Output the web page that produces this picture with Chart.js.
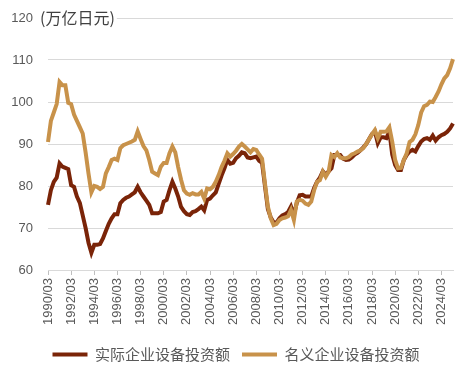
<!DOCTYPE html>
<html>
<head>
<meta charset="utf-8">
<script src="https://cdn.jsdelivr.net/npm/chart.js@4.4.1/dist/chart.umd.min.js"></script>
<style>
  html, body { margin: 0; padding: 0; background: #fff; }
  #wrap { width: 472px; height: 377px; }
</style>
</head>
<body>
<div id="wrap"><canvas id="capexChart" width="472" height="377"></canvas></div>
<script>
// quarterly series, 1990/03 .. 2025/03 (万亿日元)
const startYear = 1990;
const quarterMonths = ['03', '06', '09', '12'];

const realCapex = [
  75.5, 79, 81, 82, 85.4, 84.6, 84.3, 84, 80.2, 79.8,
  77.5, 76, 73, 70, 66.5, 64.1, 66, 66, 66.2, 67.5,
  69.3, 71, 72.3, 73.3, 73.3, 75.9, 76.7, 77.2, 77.5, 78,
  78.5, 79.8, 78.5, 77.5, 76.5, 75.5, 73.5, 73.5, 73.5, 73.8,
  76.3, 76.7, 79, 81, 79.4, 77.5, 75, 74, 73.3, 73.1,
  73.8, 74, 74.5, 75.1, 74.2, 76.7, 77, 77.8, 78.5, 80.5,
  82.5, 84.2, 86.2, 85.3, 85.5, 86.6, 87.2, 88, 87.8, 86.8,
  86.6, 86.8, 87, 86, 85.5, 80, 74.5, 72.5, 71.3, 71.3,
  72.3, 73, 73.3, 73.8, 75.1, 73.1, 76, 77.8, 77.9, 77.5,
  77.5, 77.5, 79.5, 81, 82, 83.5, 82.6, 83.5, 84.2, 87.4,
  87.4, 87.4, 86.5, 86.2, 86.3, 86.8, 87.5, 87.9, 88.5, 89.2,
  90, 91.2, 92.4, 93, 90.2, 91.6, 91.6, 91.4, 93, 87.5,
  85, 83.8, 83.8, 86.2, 87.4, 88.2, 88.6, 88.2, 89.5, 90.6,
  91.2, 91.4, 91, 92, 90.8, 91.6, 92.1, 92.4, 92.9, 93.7,
  94.9
];

const nominalCapex = [
  90.5, 95.5, 97.5, 99.5, 104.8, 104, 104, 99.8, 99.5, 97,
  95.5, 94, 92.5, 88, 83, 78.5, 80, 79.8, 79.3, 79.8,
  83, 84.5, 86.2, 86.5, 86.2, 89, 89.7, 90, 90.3, 90.6,
  91, 93, 91.2, 89.5, 88.5, 86.2, 83.4, 83, 82.6, 84.6,
  85.5, 85.5, 87.8, 89.4, 88, 84.5, 81.5, 79, 78.2, 77.9,
  78.3, 78, 78, 78.6, 77, 79.4, 79.2, 79.8, 81, 82.6,
  84.5, 86, 87.8, 87, 87.6, 88.4, 89.4, 90, 89.4, 88.7,
  88, 88.8, 88.6, 87.5, 86.5, 80.6, 75.1, 72.3, 70.7, 71,
  71.9, 72.3, 72.5, 72.8, 74.3, 71.9, 76.3, 76.7, 76.5, 75.8,
  75.5, 76.3, 79, 81, 81.4, 83.4, 82.2, 83.4, 87.4, 86.9,
  87.8, 86.8, 86.6, 86.6, 86.9, 87.5, 87.8, 88.2, 88.5, 89,
  90, 91.2, 92.3, 93.3, 91.4, 92.9, 92.9, 93, 94, 90.5,
  86.2, 84.2, 84.3, 86.2, 87.8, 90.5, 91, 92.3, 94.5, 97.5,
  99, 99.3, 100.1, 100, 101.2, 102.5, 104.2, 105.6, 106.4, 108,
  110.2
];

const seriesNames = ['实际企业设备投资额', '名义企业设备投资额'];
const seriesColors = ['#7a2408', '#c8924a'];
const yMin = 60, yMax = 120, yStep = 10;
const unitLabel = '(万亿日元)';

const labels = realCapex.map((v, i) =>
  (startYear + Math.floor(i / 4)) + '/' + quarterMonths[i % 4]);

const latin = "'Liberation Sans', Arial, sans-serif";
const cjk = "'Noto Sans CJK SC', 'Liberation Sans', sans-serif";

// unit text over the top gridline
const unitPlugin = {
  id: 'unitText',
  afterDraw(chart) {
    const ctx = chart.ctx;
    ctx.save();
    ctx.font = '16px ' + cjk;
    const w = ctx.measureText(unitLabel).width;
    ctx.fillStyle = '#fff';
    ctx.fillRect(38, 6, w + 4, 24);
    ctx.fillStyle = '#404040';
    ctx.textBaseline = 'middle';
    ctx.fillText(unitLabel, 40, 18);
    ctx.restore();
  }
};

new Chart(document.getElementById('capexChart'), {
  type: 'line',
  data: {
    labels: labels,
    datasets: [
      {
        label: seriesNames[0],
        data: realCapex,
        borderColor: seriesColors[0],
        backgroundColor: seriesColors[0],
        borderWidth: 4,
        pointRadius: 0,
        tension: 0,
        order: 2
      },
      {
        label: seriesNames[1],
        data: nominalCapex,
        borderColor: seriesColors[1],
        backgroundColor: seriesColors[1],
        borderWidth: 4,
        pointRadius: 0,
        tension: 0,
        order: 1
      }
    ]
  },
  options: {
    responsive: false,
    animation: false,
    layout: { padding: { top: 18, left: 0, right: 0, bottom: 5 } },
    plugins: {
      tooltip: { enabled: false },
      legend: {
        position: 'bottom',
        labels: {
          boxWidth: 35,
          boxHeight: 4,
          padding: 12,
          color: '#595959',
          font: { family: cjk, size: 15 },
          sort: (a, b) => a.datasetIndex - b.datasetIndex,
          generateLabels(chart) {
            const items = Chart.defaults.plugins.legend.labels.generateLabels(chart);
            items.forEach(it => { it.lineWidth = 0; });
            return items;
          }
        }
      }
    },
    scales: {
      x: {
        offset: false,
        grid: {
          drawOnChartArea: false,
          tickLength: 5,
          tickColor: c => (c.index % 8 === 0 ? '#bfbfbf' : 'transparent')
        },
        border: { color: '#d9d9d9' },
        ticks: {
          autoSkip: false,
          minRotation: 90,
          maxRotation: 90,
          padding: 3,
          color: '#595959',
          font: { family: latin, size: 13 },
          callback: (v, i) => (i % 8 === 0 ? labels[i] : '')
        },
        afterFit: s => { s.height = 65; }
      },
      y: {
        min: yMin,
        max: yMax,
        grid: { color: '#d9d9d9', tickLength: 12, tickColor: 'transparent' },
        border: { display: false },
        ticks: {
          stepSize: yStep,
          padding: 3,
          color: '#595959',
          font: { family: latin, size: 13 }
        },
        afterFit: s => { s.width = 48; }
      },
      yRight: {
        position: 'right',
        display: true,
        grid: { display: false },
        border: { display: false },
        ticks: { display: false },
        afterFit: s => { s.width = 19; }
      }
    }
  },
  plugins: [unitPlugin]
});
</script>
</body>
</html>
